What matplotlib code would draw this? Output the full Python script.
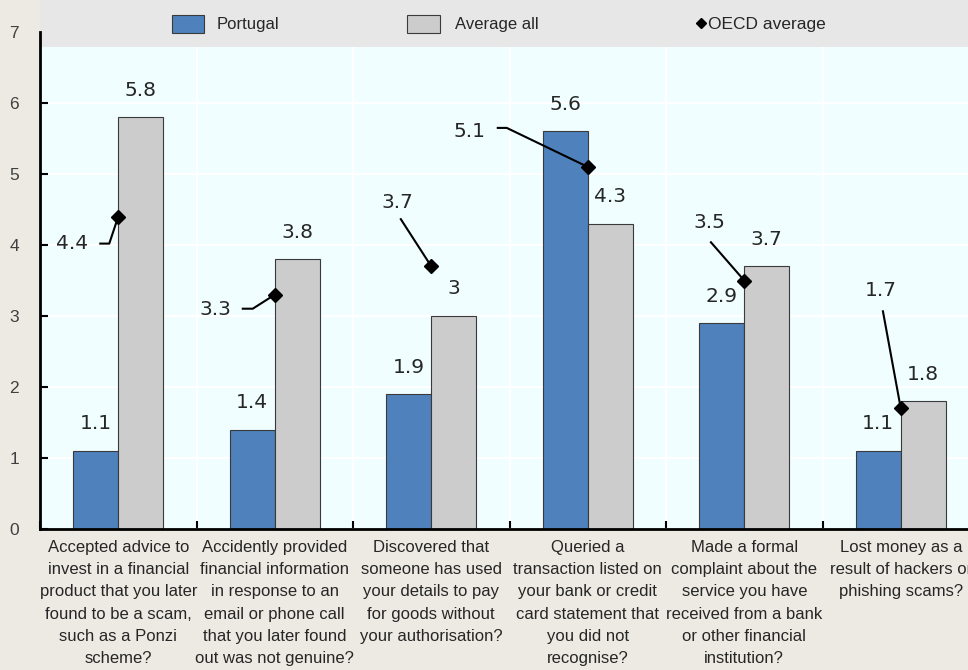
import matplotlib
matplotlib.use("Agg")
import matplotlib.pyplot as plt
from matplotlib.patches import Rectangle
from matplotlib.lines import Line2D
import matplotlib.transforms as mtransforms

# ---------------------------------------------------------------------------
# Data
# ---------------------------------------------------------------------------
categories = [
    "Accepted advice to\ninvest in a financial\nproduct that you later\nfound to be a scam,\nsuch as a Ponzi\nscheme?",
    "Accidently provided\nfinancial information\nin response to an\nemail or phone call\nthat you later found\nout was not genuine?",
    "Discovered that\nsomeone has used\nyour details to pay\nfor goods without\nyour authorisation?",
    "Queried a\ntransaction listed on\nyour bank or credit\ncard statement that\nyou did not\nrecognise?",
    "Made a formal\ncomplaint about the\nservice you have\nreceived from a bank\nor other financial\ninstitution?",
    "Lost money as a\nresult of hackers or\nphishing scams?",
]
portugal = [1.1, 1.4, 1.9, 5.6, 2.9, 1.1]
average_all = [5.8, 3.8, 3.0, 4.3, 3.7, 1.8]
oecd_average = [4.4, 3.3, 3.7, 5.1, 3.5, 1.7]

# ---------------------------------------------------------------------------
# Styling
# ---------------------------------------------------------------------------
FIG_BG = "#ECEAE2"
PLOT_BG = "#F0FEFF"
BAND = "#E7E7E7"
BLUE = "#4F81BD"
GREY = "#CCCCCC"
EDGE = "#3A3A3A"
TEXT = "#262626"

W_PX, H_PX, DPI = 968, 670, 100
BAR_W = 0.288

# label placement for the OECD points, in pixels relative to the marker
# (dx right, dy down): label centre, then leader-line vertices
oecd_label_px = [(-46, 27), (-59, 15), (-34, -64), (-118, -35), (-35, -58), (-20, -118)]
oecd_leader_px = [
    [(-19, 27), (-9, 27)],
    [(-33, 14), (-22, 14)],
    [(-31, -48)],
    [(-91, -39), (-81, -39)],
    [(-34, -39)],
    [(-18, -98)],
]

VAL_FONT = ["DejaVu Sans"]
SANS = ["Liberation Sans", "DejaVu Sans"]


def fx(px):
    return px / W_PX


def fy(py):
    return 1 - py / H_PX


fig = plt.figure(figsize=(W_PX / DPI, H_PX / DPI), dpi=DPI, facecolor=FIG_BG)
ax = fig.add_axes([fx(40), fy(529), (979 - 40) / W_PX, (529 - 32) / H_PX])
ax.set_facecolor(PLOT_BG)
ax.set_xlim(-0.5, 5.5)
ax.set_ylim(0, 7)

x = list(range(len(categories)))

# bars
ax.bar([i - BAR_W / 2 for i in x], portugal, width=BAR_W, color=BLUE,
       edgecolor=EDGE, linewidth=0.8, zorder=2)
ax.bar([i + BAR_W / 2 for i in x], average_all, width=BAR_W, color=GREY,
       edgecolor=EDGE, linewidth=0.8, zorder=2)

# value labels above the bars
for i in x:
    for xpos, v in ((i - BAR_W / 2, portugal[i]), (i + BAR_W / 2, average_all[i])):
        ax.annotate(f"{v:g}", xy=(xpos, v), xytext=(0, 27),
                    textcoords="offset pixels", ha="center", va="center",
                    fontsize=14.5, color=TEXT, family=VAL_FONT, zorder=4)

# OECD markers with leader lines
ax.plot(x, oecd_average, linestyle="none", marker="D", markersize=7.5,
        color="black", zorder=5, clip_on=False)
sx = ax.bbox.width / 6.0
sy = ax.bbox.height / 7.0
for i, v in enumerate(oecd_average):
    lx, ly = oecd_label_px[i]
    ax.text(i + lx / sx, v - ly / sy, f"{v:g}", ha="center", va="center",
            fontsize=14.5, color=TEXT, family=VAL_FONT, zorder=4)
    pts = oecd_leader_px[i] + [(0, 0)]
    ax.plot([i + dx / sx for dx, dy in pts], [v - dy / sy for dx, dy in pts],
            color="black", linewidth=1.5, zorder=4, solid_capstyle="butt")

# grid
ax.set_axisbelow(True)
ax.set_yticks(range(0, 8))
ax.set_xticks([i + 0.5 for i in range(-1, 6)])
ax.grid(True, color="white", linewidth=1.5)
ax.tick_params(axis="both", direction="in", length=6, width=1.5, color="black")
ax.tick_params(axis="x", labelbottom=False)
ax.tick_params(axis="y", pad=15, labelsize=12.5, labelcolor="#404040")
for lab in ax.get_yticklabels():
    lab.set_family(SANS)

for side in ("top", "right"):
    ax.spines[side].set_visible(False)
for side in ("left", "bottom"):
    ax.spines[side].set_linewidth(2)
    ax.spines[side].set_color("black")

# category labels under the axis
trans = mtransforms.blended_transform_factory(ax.transData, ax.transAxes)
for i, cat in enumerate(categories):
    ax.text(i, -(540 - 529) / ax.bbox.height, cat, transform=trans,
            ha="center", va="top", multialignment="center",
            fontsize=12, linespacing=1.6, color=TEXT, family=SANS)

# legend band across the top
ax.add_patch(Rectangle((fx(40), fy(46.5)), 1 - fx(40), 46.5 / H_PX,
                       transform=fig.transFigure, facecolor=BAND,
                       edgecolor="none", clip_on=False, zorder=1))

legend_items = [
    (172, 204, BLUE, "Portugal", 217),
    (407, 440, GREY, "Average all", 455),
]
for x0, x1, col, name, tx in legend_items:
    fig.add_artist(Rectangle((fx(x0), fy(33)), fx(x1) - fx(x0), 18 / H_PX,
                             transform=fig.transFigure, facecolor=col,
                             edgecolor=EDGE, linewidth=0.8, zorder=3))
    fig.text(fx(tx), fy(24), name, ha="left", va="center", fontsize=12,
             color=TEXT, family=SANS, zorder=3)
fig.add_artist(Line2D([fx(701)], [fy(23)], marker="D", markersize=5,
                      color="black", linestyle="none",
                      transform=fig.transFigure, zorder=3))
fig.text(fx(708), fy(24), "OECD average", ha="left", va="center",
         fontsize=12.5, color=TEXT, family=SANS, zorder=3)

fig.savefig("out.png", dpi=DPI, facecolor=FIG_BG)
